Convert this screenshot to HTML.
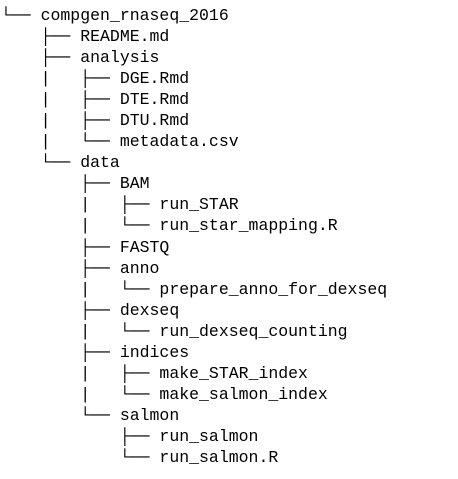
<!DOCTYPE html>
<html><head><style>
html,body{margin:0;padding:0;background:#fff;width:458px;height:479px;overflow:hidden}
pre{position:absolute;left:1px;top:5px;margin:0;font-family:"Liberation Mono","DejaVu Sans Mono",monospace;font-size:16.5px;line-height:21.05px;color:#000}
</style></head><body>
<pre>└── compgen_rnaseq_2016
    ├── README.md
    ├── analysis
    |   ├── DGE.Rmd
    |   ├── DTE.Rmd
    |   ├── DTU.Rmd
    |   └── metadata.csv
    └── data
        ├── BAM
        |   ├── run_STAR
        |   └── run_star_mapping.R
        ├── FASTQ
        ├── anno
        |   └── prepare_anno_for_dexseq
        ├── dexseq
        |   └── run_dexseq_counting
        ├── indices
        |   ├── make_STAR_index
        |   └── make_salmon_index
        └── salmon
            ├── run_salmon
            └── run_salmon.R</pre>
</body></html>
